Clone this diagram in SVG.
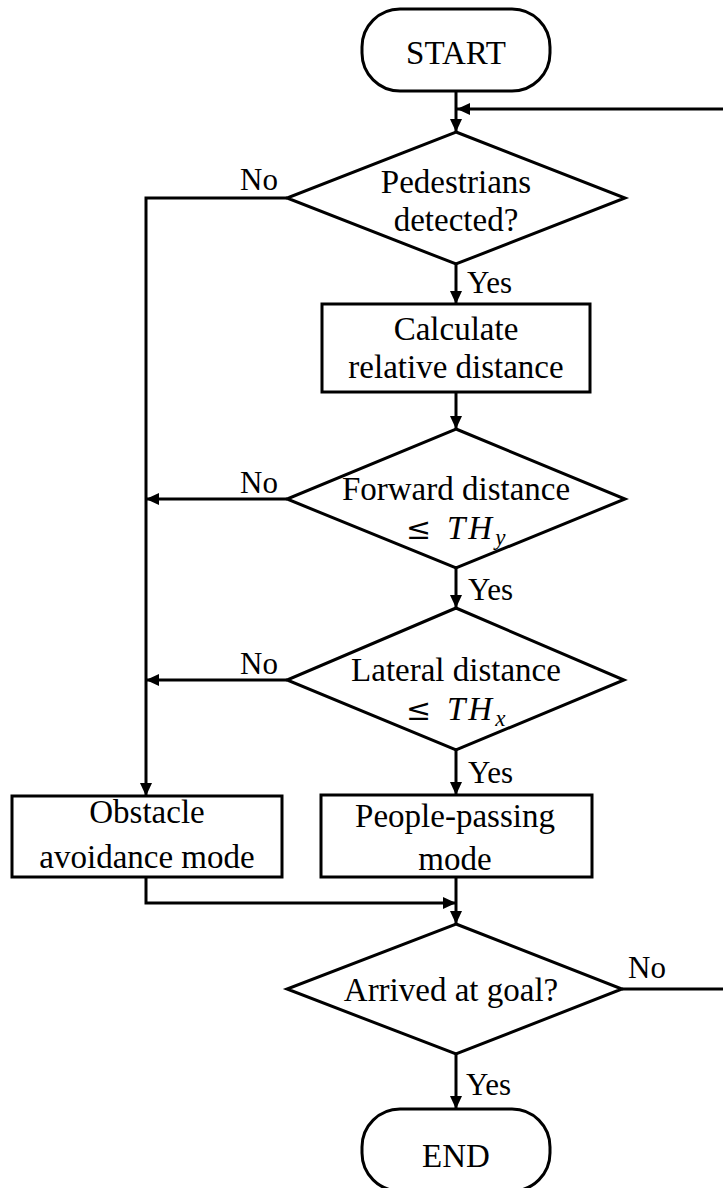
<svg xmlns="http://www.w3.org/2000/svg" width="723" height="1188" viewBox="0 0 723 1188">
  <style>
    .shape { fill: #ffffff; stroke: #000000; stroke-width: 3; }
    .wire { fill: none; stroke: #000000; stroke-width: 3; }
    .txt { font-family: "Liberation Serif", "Times New Roman", serif; font-size: 33px; fill: #000000; text-anchor: middle; }
    .lbl { font-family: "Liberation Serif", "Times New Roman", serif; font-size: 31px; fill: #000000; }
    .math { font-family: "Liberation Serif", "Times New Roman", serif; font-size: 33px; fill: #000000; }
    .leq { font-family: "DejaVu Serif", "Liberation Serif", serif; font-size: 30px; fill: #000000; }
    .it { font-style: italic; }
  </style>
  <defs>
    <marker id="arrow" markerUnits="userSpaceOnUse" markerWidth="14" markerHeight="12" refX="13" refY="6" orient="auto">
      <path d="M0,0 L13,6 L0,12 z" fill="#000000"/>
    </marker>
  </defs>
  <rect width="723" height="1188" fill="#ffffff"/>

  <!-- connectors -->
  <g id="connectors">
    <path class="wire" d="M456 91 V132" marker-end="url(#arrow)"/>
    <path class="wire" d="M456 264 V304" marker-end="url(#arrow)"/>
    <path class="wire" d="M456 392 V429" marker-end="url(#arrow)"/>
    <path class="wire" d="M456 568 V608" marker-end="url(#arrow)"/>
    <path class="wire" d="M456 750 V795" marker-end="url(#arrow)"/>
    <path class="wire" d="M456 877 V924" marker-end="url(#arrow)"/>
    <path class="wire" d="M146 877 V903 H456" marker-end="url(#arrow)"/>
    <path class="wire" d="M287 198 H146 V796" marker-end="url(#arrow)"/>
    <path class="wire" d="M287 499 H146" marker-end="url(#arrow)"/>
    <path class="wire" d="M287 680 H146" marker-end="url(#arrow)"/>
    <path class="wire" d="M456 1054 V1109" marker-end="url(#arrow)"/>
    <path class="wire" d="M622 989 H740 V109 H457" marker-end="url(#arrow)"/>
    <!-- branch labels -->
    <text class="lbl" x="467" y="293">Yes</text>
    <text class="lbl" x="468" y="600">Yes</text>
    <text class="lbl" x="468" y="783">Yes</text>
    <text class="lbl" x="466" y="1095">Yes</text>
    <text class="lbl" x="240" y="190">No</text>
    <text class="lbl" x="240" y="493">No</text>
    <text class="lbl" x="240" y="674">No</text>
    <text class="lbl" x="628" y="978">No</text>
  </g>

  <g id="start">
    <rect class="shape" x="362" y="9" width="188" height="82" rx="38" ry="38"/>
    <text class="txt" x="456" y="64">START</text>
  </g>

  <g id="pedestrians-detected">
    <polygon class="shape" points="456,132 625,198 456,264 287,198"/>
    <text class="txt" x="456" y="193">Pedestrians</text>
    <text class="txt" x="456" y="231">detected?</text>
  </g>

  <g id="calculate-distance">
    <rect class="shape" x="322" y="304" width="268" height="88"/>
    <text class="txt" x="456" y="340">Calculate</text>
    <text class="txt" x="456" y="378">relative  distance</text>
  </g>

  <g id="forward-check">
    <polygon class="shape" points="456,429 625,499 456,568 287,499"/>
    <text class="txt" x="456" y="500">Forward distance</text>
    <text class="leq" x="406" y="539">≤</text>
    <text class="math it" x="447" y="539" letter-spacing="3">TH<tspan font-size="23" dy="6" letter-spacing="0">y</tspan></text>
  </g>

  <g id="lateral-check">
    <polygon class="shape" points="456,608 624,680 456,750 287,680"/>
    <text class="txt" x="456" y="681">Lateral distance</text>
    <text class="leq" x="406" y="720">≤</text>
    <text class="math it" x="447" y="720" letter-spacing="3">TH<tspan font-size="23" dy="6" letter-spacing="0">x</tspan></text>
  </g>

  <g id="obstacle-avoidance">
    <rect class="shape" x="12" y="796" width="270" height="81"/>
    <text class="txt" x="147" y="823">Obstacle</text>
    <text class="txt" x="147" y="868">avoidance mode</text>
  </g>

  <g id="people-passing">
    <rect class="shape" x="321" y="795" width="271" height="82"/>
    <text class="txt" x="455" y="827">People-passing</text>
    <text class="txt" x="455" y="870">mode</text>
  </g>

  <g id="arrived-check">
    <polygon class="shape" points="456,924 622,989 456,1054 287,989"/>
    <text class="txt" x="451" y="1001">Arrived  at goal?</text>
  </g>

  <g id="end">
    <rect class="shape" x="362" y="1109" width="188" height="82" rx="38" ry="38"/>
    <text class="txt" x="456" y="1167">END</text>
  </g>
</svg>
